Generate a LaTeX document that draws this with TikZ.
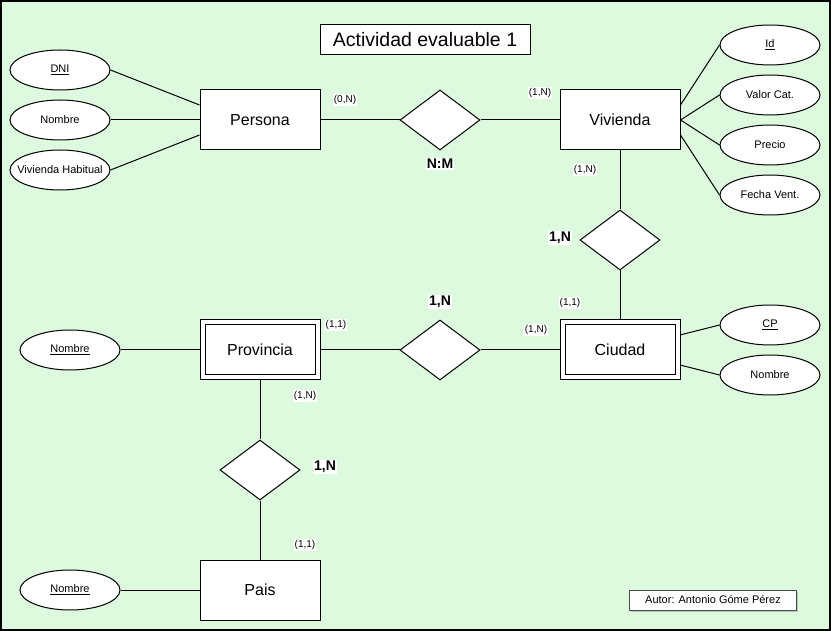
\documentclass[tikz,border=0pt]{standalone}
\usepackage{fontspec}
\setmainfont{Liberation Sans}
\usetikzlibrary{shapes.geometric,shadows}
\definecolor{fondo}{RGB}{221,250,222}
\tikzset{
 entidad/.style={draw,fill=white,minimum width=120pt,minimum height=60pt,inner sep=0pt,font=\fontsize{16}{19}\selectfont},
 debil/.style={entidad,double,double distance=4pt,minimum width=115pt,minimum height=55pt,outer sep=2.5pt},
 relacion/.style={diamond,draw,fill=white,minimum width=80pt,minimum height=60pt,inner sep=0pt},
 atributo/.style={ellipse,draw,fill=white,minimum width=100pt,minimum height=40pt,inner sep=0pt,font=\fontsize{11}{13}\selectfont},
 card/.style={fill=white,inner sep=1pt,font=\fontsize{10}{12}\selectfont},
 etiq/.style={fill=white,inner sep=1pt,font=\bfseries\fontsize{14}{17}\selectfont},
}

\begin{document}
\begin{tikzpicture}[x=1pt,y=-1pt,line width=1pt]
 \useasboundingbox (0,0) rectangle (831,631);
 \draw[fill=fondo,line width=1.5pt] (1,1) rectangle (830,630); % fondo

 \node[draw,fill=white,minimum width=210pt,minimum height=30pt,font=\fontsize{19.5}{23}\selectfont] (titulo) at (425,40) {Actividad evaluable 1};

% Persona
 \node[entidad] (persona) at (260,120) {Persona};
 \node[atributo] (dni) at (60,70) {\underline{DNI}};
 \node[atributo] (nombrep) at (60,120) {Nombre};
 \node[atributo] (vivhab) at (60,170) {\makebox[0pt]{Vivienda Habitual}};
 \draw (dni.east) -- ([yshift=15pt]persona.west);
 \draw (nombrep) -- (persona);
 \draw (vivhab.east) -- ([yshift=-15pt]persona.west);

% Vivienda
 \node[entidad] (vivienda) at (620,120) {Vivienda};
 \node[atributo] (id) at (770,45) {\underline{Id}};
 \node[atributo] (valor) at (770,95) {Valor Cat.};
 \node[atributo] (precio) at (770,145) {Precio};
 \node[atributo] (fecha) at (770,195) {Fecha Vent.};
 \draw ([yshift=15pt]vivienda.east) -- (id.west);
 \draw (vivienda.east) -- (valor.west);
 \draw (vivienda.east) -- (precio.west);
 \draw ([yshift=-15pt]vivienda.east) -- (fecha.west);

% Persona - Vivienda
 \node[relacion] (posee) at (440,120) {};
 \draw (persona) -- (posee) -- (vivienda);
 \node[card] at (345,100) {(0,N)};
 \node[card] at (540,93) {(1,N)};
 \node[etiq] at (440,164) {N:M};

% Ciudad
 \node[debil] (ciudad) at (620,350) {Ciudad};
 \node[atributo] (cp) at (770,325) {\underline{CP}};
 \node[atributo] (nombrec) at (770,375) {Nombre};
 \draw ([yshift=15pt]ciudad.east) -- (cp.west);
 \draw ([yshift=-15pt]ciudad.east) -- (nombrec.west);

% Vivienda - Ciudad
 \node[relacion] (situada) at (620,240) {};
 \draw (vivienda) -- (situada) -- (ciudad);
 \node[card] at (585,170) {(1,N)};
 \node[card] at (570,303) {(1,1)};
 \node[etiq] at (560,238) {1,N};

% Provincia
 \node[debil] (provincia) at (260,350) {Provincia};
 \node[atributo] (nombrepr) at (70,350) {\underline{Nombre}};
 \draw (nombrepr) -- (provincia);

% Provincia - Ciudad
 \node[relacion] (contiene) at (440,350) {};
 \draw (provincia) -- (contiene) -- (ciudad);
 \node[card] at (336,325) {(1,1)};
 \node[card] at (536,330) {(1,N)};
 \node[etiq] at (440,302) {1,N};

% Pais
 \node[entidad] (pais) at (260,590) {Pais};
 \node[atributo] (nombrepa) at (70,590) {\underline{Nombre}};
 \draw (nombrepa) -- (pais);

% Provincia - Pais
 \node[relacion] (pertenece) at (260,470) {};
 \draw (provincia) -- (pertenece) -- (pais);
 \node[card] at (305,396) {(1,N)};
 \node[card] at (305,545) {(1,1)};
 \node[etiq] at (325,467) {1,N};

 \node[draw=black!70,fill=white,minimum width=167pt,minimum height=20pt,inner sep=0pt,font=\fontsize{11}{13}\selectfont,
   drop shadow={opacity=0.4,shadow xshift=1.5pt,shadow yshift=-1.5pt}] (autor) at (713,600) {Autor: Antonio Góme Pérez};
\end{tikzpicture}
\end{document}
